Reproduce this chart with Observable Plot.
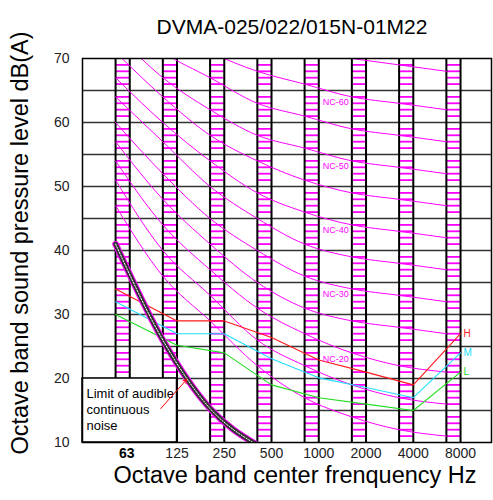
<!DOCTYPE html>
<html><head><meta charset="utf-8">
<script src="https://cdn.jsdelivr.net/npm/d3@7"></script>
<script src="https://cdn.jsdelivr.net/npm/@observablehq/plot@0.6"></script>
<style>body{margin:0;background:#fff}svg{display:block}</style>
</head><body><div id="chart"></div>
<script>
// ---------- data ----------
const title = "DVMA-025/022/015N-01M22";
const xLabel = "Octave band center frenquency Hz";
const yLabel = "Octave band sound pressure level dB(A)";
const bands = ["63","125","250","500","1000","2000","4000","8000"];
const yTicks = [10,20,30,40,50,60,70];
const gridLevels = [15,20,25,30,35,40,45,50,55,60,65];

const nc15 = [47,36,29,22,17,14,12,11];
const nc20 = [51,40,33,26,22,19,17,16];
const nc25 = [54,44,37,31,27,24,22,21];
const nc30 = [57,48,41,35,31,29,28,27];
const nc35 = [60,52,45,40,36,34,33,32];
const nc40 = [64,57,50,45,41,39,38,37];
const nc45 = [67,60,54,49,46,44,43,42];
const nc50 = [71,64,58,54,51,49,48,47];
const nc55 = [74,67,62,58,56,54,53,52];
const nc60 = [77,71,67,63,61,59,58,57];
const nc65 = [80,75,71,68,66,64,63,62];
const nc70 = [83,79,75,72,71,70,69,68];
const ncCurves = [nc15,nc20,nc25,nc30,nc35,nc40,nc45,nc50,nc55,nc60,nc65,nc70];
const ncNames = ["NC-15","NC-20","NC-25","NC-30","NC-35","NC-40","NC-45","NC-50","NC-55","NC-60","NC-65","NC-70"];
const ncLabelled = ["NC-60","NC-50","NC-40","NC-30"];
const ncLabelledLow = ["NC-20"];

const seriesNames = ["H","M","L"];
const seriesH = [34,29,29,26.4,22.9,21,19,27];
const seriesM = [32,27,27,23.1,20.1,18.6,17,24];
const seriesL = [30,25.2,24,19,17,16,15,21];
const seriesColors = ["#ff1a1a","#22ddff","#22dd22"];

const limitLevels = [41,26,15.3,9.6];   // at 63,125,250,500 Hz
const noteText = "Limit of audible\ncontinuous\nnoise";

// ---------- layout helpers ----------
const STRIPE = 0.3;               // hatched band width (in band units)
const ncX = i => i - STRIPE;      // NC curves drawn at stripe left edge
const serX = i => i === 0 ? -STRIPE : i;

const ncData = ncCurves.flatMap((c, k) => c.map((v, i) => ({name: ncNames[k], x: ncX(i), y: v})));
const serData = [seriesH, seriesM, seriesL].flatMap((s, k) => s.map((v, i) => ({name: seriesNames[k], x: serX(i), y: v})));
const hatch = [];
bands.forEach((b, i) => { for (let v = 11; v < 70; v++) if (v % 5) hatch.push({x1: i - STRIPE, x2: i, y: v}); });
const edges = bands.flatMap((b, i) => [i - STRIPE, i]);
const limitData = limitLevels.map((v, i) => ({x: ncX(i), y: v}));
const ncLab = ncLabelled.map(n => ({name: n, y: ncCurves[ncNames.indexOf(n)][4]}));
const ncLabLow = ncLabelledLow.map(n => ({name: n, y: ncCurves[ncNames.indexOf(n)][4]}));

const font = "Liberation Sans, Arial, sans-serif";

const chart = Plot.plot({
  width: 493, height: 500,
  marginLeft: 82, marginRight: 2, marginTop: 58, marginBottom: 58,
  style: {fontFamily: font, background: "white"},
  x: {type: "linear", domain: [-1, 7.655], axis: null},
  y: {type: "linear", domain: [10, 70], axis: null},
  marks: [
    Plot.ruleY(hatch, {y: "y", x1: "x1", x2: "x2", stroke: "#ff00ff", strokeWidth: 1.8}),
    Plot.ruleY(gridLevels, {stroke: "#333", strokeWidth: 1.5}),
    Plot.ruleX(edges, {stroke: "black", strokeWidth: 2}),
    Plot.line(ncData, {x: "x", y: "y", z: "name", stroke: "#ff00ff", strokeWidth: 1, curve: "monotone-x", clip: true}),
    Plot.rect([{x1: -1, x2: 1, y1: 10, y2: 20}], {x1: "x1", x2: "x2", y1: "y1", y2: "y2", fill: "white", stroke: "black", strokeWidth: 1.5}),
    Plot.line(serData, {x: "x", y: "y", z: "name", stroke: d => seriesColors[seriesNames.indexOf(d.name)], strokeWidth: 1.1}),
    Plot.text(seriesNames, {x: () => 7, y: (d, i) => [seriesH, seriesM, seriesL][i][7], text: d => d, fill: (d, i) => seriesColors[i], textAnchor: "start", dx: 3, fontSize: 10}),
    Plot.line(limitData, {x: "x", y: "y", stroke: "#ff00ff", strokeWidth: 6.5, curve: "monotone-x", clip: true}),
    Plot.line(limitData, {x: "x", y: "y", stroke: "#333", strokeWidth: 4.5, curve: "monotone-x", clip: true}),
    Plot.line(limitData, {x: "x", y: "y", stroke: "white", strokeWidth: 1, strokeDasharray: "1.5,1.5", curve: "monotone-x", clip: true}),
    Plot.text(ncLab, {x: () => 4, y: "y", text: "name", fill: "#ff00ff", textAnchor: "start", dx: 4, dy: -14, fontSize: 9}),
    Plot.text(ncLabLow, {x: () => 4, y: "y", text: "name", fill: "#ff00ff", textAnchor: "start", dx: 4, dy: -7, fontSize: 9}),
    Plot.text([noteText], {x: () => -1, y: () => 15.3, text: d => d, textAnchor: "start", dx: 4, fontSize: 13, lineHeight: 1.23, fill: "black"}),
    Plot.arrow([{x1: 0.656, y1: 15.31, x2: 1.205, y2: 19.84}], {x1: "x1", y1: "y1", x2: "x2", y2: "y2", stroke: "red", strokeWidth: 1, headLength: 6}),
    Plot.frame({stroke: "black", strokeWidth: 1.5}),
    Plot.axisY(yTicks, {tickSize: 0, tickPadding: 13, fontSize: 14, label: null, fill: "#222"}),
    Plot.text([bands[0]], {x: () => 0, frameAnchor: "bottom", dy: 15, dx: -3, fontSize: 14, fontWeight: "bold"}),
    Plot.text(bands.slice(1), {x: (d, i) => i + 1, frameAnchor: "bottom", dy: 15, fontSize: 14, fill: "#222"}),
    Plot.text([xLabel], {frameAnchor: "bottom", textAnchor: "middle", dx: 8, dy: 40, fontSize: 23.5, fill: "black"}),
    Plot.text([yLabel], {frameAnchor: "left", textAnchor: "middle", rotate: -90, dx: -62, dy: -7.5, fontSize: 23.5, fill: "black"}),
    Plot.text([title], {frameAnchor: "top", textAnchor: "middle", dx: 5, dy: -39, fontSize: 21, fill: "black"})
  ]
});
document.getElementById("chart").appendChild(chart);
</script>
</body></html>
